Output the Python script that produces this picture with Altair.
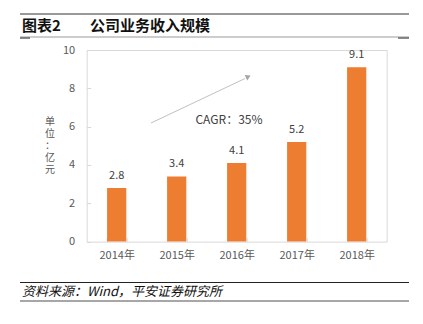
import altair as alt
import pandas as pd

years = ["2014年", "2015年", "2016年", "2017年", "2018年"]
revenue = [2.8, 3.4, 4.1, 5.2, 9.1]
labels = ["2.8", "3.4", "4.1", "5.2", "9.1"]
y_ticks = [0, 2, 4, 6, 8, 10]

title_a = "图表2"
title_b = "公司业务收入规模"
source = "资料来源：Wind，平安证券研究所"
cagr = "CAGR：35%"
unit = ["单", "位", "：", "亿", "元"]

FONT = "Noto Sans CJK SC"
df = pd.DataFrame({"year": years, "rev": revenue, "lab": labels})

W, H = 300, 191.6
PL, PT = 86.7, 50

x = alt.X("year:N", sort=years, title=None,
          scale=alt.Scale(paddingInner=0.68, paddingOuter=0.34),
          axis=alt.Axis(labelAngle=0, labelColor="#595959", labelFontSize=11,
                        labelFont=FONT, domain=False, ticks=True, tickBand="extent",
                        tickColor="#d9d9d9", tickSize=4, offset=-4, labelPadding=8))
y = alt.Y("rev:Q", title=None,
          scale=alt.Scale(domain=[0, 10]),
          axis=alt.Axis(values=y_ticks, grid=False, domain=False,
                        labelOverlap=False,
                        tickColor="#d9d9d9", tickSize=4, offset=-4,
                        labelColor="#595959", labelFontSize=11, labelFont=FONT,
                        labelPadding=12))

base = alt.Chart(df).encode(x=x, y=y)
bars = base.mark_bar(color="#ED7D31")
vals = base.mark_text(dy=-12, fontSize=11, color="#404040", font=FONT).encode(text="lab:N")

def rule(x1, x2, yv, color, w):
    return alt.Chart(pd.DataFrame({"a": [0]})).mark_rule(color=color, strokeWidth=w).encode(
        x=alt.value(x1 - PL), x2=alt.value(x2 - PL), y=alt.value(yv - PT))

def txt(s, xv, yv, size, color, weight="normal", style="normal", align="left"):
    return alt.Chart(pd.DataFrame({"a": [0]})).mark_text(
        text=s, fontSize=size, color=color, fontWeight=weight, fontStyle=style,
        align=align, baseline="middle", font=FONT).encode(
        x=alt.value(xv - PL), y=alt.value(yv - PT))

arrow_line = alt.Chart(pd.DataFrame({"a": [0]})).mark_rule(color="#c0c0c0", strokeWidth=1).encode(
    x=alt.value(151 - PL), x2=alt.value(245 - PL), y=alt.value(123 - PT), y2=alt.value(78.5 - PT))
arrow_head = alt.Chart(pd.DataFrame({"a": [0]})).mark_point(
    shape="triangle", filled=True, color="#a6a6a6", size=35, angle=64, opacity=1).encode(
    x=alt.value(247.5 - PL), y=alt.value(77 - PT))

unit_txt = alt.Chart(pd.DataFrame({"a": [0]})).mark_text(
    text=unit, fontSize=10, color="#595959", lineHeight=12, baseline="middle",
    align="center", font=FONT).encode(x=alt.value(50 - PL), y=alt.value(122 - PT))

chart = alt.layer(
    bars, vals,
    rule(20, 409, 14, "#333333", 1),
    rule(20, 409, 37, "#9a9a9a", 1),
    rule(20, 30, 38, "#666666", 1.5),
    rule(398, 409, 38, "#666666", 1.5),
    txt(title_a, 22, 26, 15, "#111111", weight="bold"),
    txt(title_b, 90, 26, 15, "#111111", weight="bold"),
    txt(cagr, 229, 120, 12, "#404040", align="center"),
    arrow_line, arrow_head, unit_txt,
    rule(20, 409, 282.5, "#222222", 1),
    txt(source, 22, 292, 13, "#111111", style="italic"),
    rule(20, 409, 301, "#8a8a8a", 1.5),
).properties(
    width=W, height=H,
    autosize=alt.AutoSizeParams(type="none"),
    padding={"left": PL, "top": PT, "right": 423 - PL - W, "bottom": 324 - PT - H},
    background="white",
).configure_view(stroke="#d9d9d9", strokeWidth=1)

chart.save("out.html", embed_options={"renderer": "svg", "actions": False})
